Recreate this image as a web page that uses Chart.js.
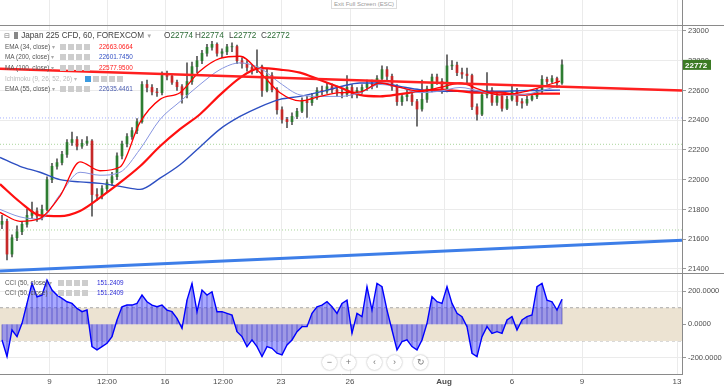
<!DOCTYPE html>
<html>
<head>
<meta charset="utf-8">
<script src="https://cdn.jsdelivr.net/npm/chart.js@4.4.0/dist/chart.umd.min.js"></script>
<style>
  body { margin: 0; background: #fff; font-family: "Liberation Sans", Arial, sans-serif; }
  #wrap { position: relative; width: 724px; height: 390px; overflow: hidden; }
  canvas { position: absolute; left: 0; }
  .t { position: absolute; white-space: nowrap; font-size: 6.4px; line-height: 8px; color: #555; }
  .ic { display: inline-block; width: 6px; height: 6px; background: #cdcdcd; margin-right: 2px; vertical-align: -1px; }
  .hl { position: absolute; left: 0; width: 724px; height: 1px; background: #8a8a8a; }
  .btn { position: absolute; width: 15px; height: 15px; border-radius: 50%; background: #fff;
         box-shadow: 0 0 2px rgba(0,0,0,0.35); font-size: 9px; color: #777; text-align: center; line-height: 15px; }
</style>
</head>
<body>
<div id="wrap">
  <canvas id="price" width="724" height="274" style="top:0"></canvas>
  <canvas id="cci" width="724" height="116" style="top:274px"></canvas>

  <div class="hl" style="top:25px"></div>
  <div class="hl" style="top:273px"></div>
  <div class="t" style="left:331px;top:-1px;width:64px;height:8px;border:1px solid #dcdcdc;background:#fff;text-align:center;color:#9a9a9a;font-size:6px;">Exit Full Screen (ESC)</div>

  <!-- main legend -->
  <div class="t" style="left:4px;top:31px;font-size:8.2px;line-height:10px;color:#444;">
    <span style="font-family:'DejaVu Sans';font-size:7px;color:#777">⊟</span>
    <span style="display:inline-block;width:4px;height:7px;background:#888;margin:0 3px 0 2px;vertical-align:-1px"></span>Japan 225 CFD, 60, FOREXCOM <span style="color:#aaa;font-size:6px">▼</span></div>
  <div class="t" style="left:164px;top:31px;font-size:8.2px;line-height:10px;color:#444;">O<span style="color:#2b6b35">22774</span></div>
  <div class="t" style="left:195px;top:31px;font-size:8.2px;line-height:10px;color:#444;">H<span style="color:#2b6b35">22774</span></div>
  <div class="t" style="left:229px;top:31px;font-size:8.2px;line-height:10px;color:#444;">L<span style="color:#2b6b35">22772</span></div>
  <div class="t" style="left:261px;top:31px;font-size:8.2px;line-height:10px;color:#444;">C<span style="color:#2b6b35">22772</span></div>

  <div class="t" style="left:5px;top:43px">EMA (34, close) <span style="color:#aaa">▾</span></div>
  <div class="t" style="left:60px;top:43px"><span class="ic"></span><span class="ic"></span><span class="ic"></span><span class="ic"></span></div>
  <div class="t" style="left:99px;top:43px;color:#ff1a1a">22663.0664</div>

  <div class="t" style="left:5px;top:53px">MA (200, close) <span style="color:#aaa">▾</span></div>
  <div class="t" style="left:60px;top:53px"><span class="ic"></span><span class="ic"></span><span class="ic"></span><span class="ic"></span></div>
  <div class="t" style="left:99px;top:53px;color:#3350c4">22601.7450</div>

  <div class="t" style="left:5px;top:64px">MA (100, close) <span style="color:#aaa">▾</span></div>
  <div class="t" style="left:60px;top:64px"><span class="ic"></span><span class="ic"></span><span class="ic"></span><span class="ic"></span></div>
  <div class="t" style="left:99px;top:64px;color:#ff1a1a">22577.9500</div>

  <div class="t" style="left:5px;top:75px;color:#bbb">Ichimoku (9, 26, 52, 26) ▾</div>
  <div class="t" style="left:85px;top:75px"><span class="ic" style="background:#3a9be0"></span><span class="ic"></span><span class="ic"></span><span class="ic"></span><span class="ic"></span></div>

  <div class="t" style="left:5px;top:85px">EMA (55, close) <span style="color:#aaa">▾</span></div>
  <div class="t" style="left:60px;top:85px"><span class="ic"></span><span class="ic"></span><span class="ic"></span><span class="ic"></span></div>
  <div class="t" style="left:99px;top:85px;color:#4a5db0">22635.4461</div>

  <!-- CCI legend -->
  <div class="t" style="left:5px;top:279px">CCI (50, close) <span style="color:#aaa">▾</span></div>
  <div class="t" style="left:58px;top:279px"><span class="ic"></span><span class="ic"></span><span class="ic"></span><span class="ic"></span></div>
  <div class="t" style="left:97px;top:279px;color:#2b2bd6">151.2409</div>
  <div class="t" style="left:5px;top:289px">CCI (50, close) <span style="color:#aaa">▾</span></div>
  <div class="t" style="left:58px;top:289px"><span class="ic"></span><span class="ic"></span><span class="ic"></span><span class="ic"></span></div>
  <div class="t" style="left:97px;top:289px;color:#2b2bd6">151.2409</div>

  <div class="btn" style="left:322px;top:355px">−</div>
  <div class="btn" style="left:341px;top:355px">+</div>
  <div class="btn" style="left:367px;top:355px">‹</div>
  <div class="btn" style="left:387px;top:355px">›</div>
  <div class="btn" style="left:413px;top:355px">↻</div>
</div>

<script>
// one candle per 5 hourly bars
const barStep = 5;
const firstOpen = 21700;
const closes = [21720,21500,21610,21650,21700,21760,21790,21755,21800,22000,
  22090,22115,22170,22250,22270,22225,22245,22260,21900,21890,
  21940,21980,22020,22160,22240,22290,22330,22390,22640,22620,
  22590,22585,22700,22695,22655,22625,22570,22660,22760,22800,
  22850,22890,22910,22850,22860,22893,22895,22800,22780,22755,
  22740,22760,22600,22700,22605,22470,22405,22390,22425,22460,
  22530,22518,22555,22600,22595,22625,22605,22588,22575,22620,
  22570,22600,22620,22645,22640,22680,22740,22695,22625,22525,
  22558,22570,22525,22475,22540,22610,22690,22660,22600,22765,
  22770,22720,22710,22700,22490,22440,22570,22600,22520,22560,
  22480,22540,22600,22525,22515,22540,22560,22595,22675,22660,
  22680,22650,22772];
const highs = [21760,21735,21630,21690,21720,21800,21850,21810,21830,22020,
  22110,22140,22190,22270,22320,22290,22270,22290,22270,21940,
  21960,22000,22050,22180,22260,22310,22350,22410,22660,22670,
  22640,22615,22725,22730,22710,22670,22640,22785,22790,22830,
  22870,22910,22930,22920,22880,22910,22920,22905,22820,22800,
  22770,22873,22770,22745,22720,22620,22490,22420,22450,22480,
  22550,22560,22580,22620,22630,22650,22645,22630,22610,22700,
  22640,22620,22640,22670,22670,22700,22765,22760,22710,22640,
  22580,22600,22590,22540,22670,22630,22710,22710,22680,22840,
  22800,22790,22750,22750,22710,22510,22590,22720,22620,22590,
  22575,22560,22630,22615,22545,22560,22580,22610,22700,22690,
  22700,22690,22806];
const lows = [21670,21460,21480,21590,21630,21680,21740,21720,21730,21790,
  21980,22070,22100,22150,22230,22200,22210,22230,21755,21860,
  21870,21920,21960,22000,22140,22220,22270,22310,22380,22590,
  22570,22560,22570,22670,22640,22600,22515,22550,22640,22720,
  22780,22830,22870,22830,22820,22840,22860,22780,22750,22730,
  22710,22720,22560,22590,22590,22440,22380,22350,22370,22410,
  22450,22418,22500,22540,22570,22580,22585,22560,22550,22560,
  22550,22550,22580,22600,22610,22620,22660,22670,22600,22500,
  22500,22530,22500,22360,22460,22520,22590,22640,22580,22590,
  22740,22700,22680,22640,22470,22400,22430,22550,22500,22500,
  22460,22470,22530,22500,22480,22500,22530,22545,22585,22640,
  22650,22620,22640];

// CCI (50) at the same candles
const cciValues = [-94,-194,-34,-74,6,126,246,166,176,266,
  206,176,156,136,126,96,76,86,-134,-154,
  -134,-114,-74,26,106,116,116,126,176,136,
  116,106,116,86,76,36,-24,146,246,76,
  206,176,196,76,76,66,56,-44,-74,-134,
  -94,-134,-194,-134,-144,-174,-184,-124,-94,-44,
  -14,-14,66,106,116,136,106,66,126,146,
  -54,66,46,226,86,246,226,86,-34,-154,
  -104,-94,-134,-154,-94,6,166,136,126,226,
  126,66,46,-14,-174,-194,-74,-14,-54,-44,
  -54,26,46,-34,26,46,56,226,246,146,
  136,86,151];

// moving averages, read every 20 bars
const maStep = 20;
const ema34 = [21780,21720,21740,21890,22120,22060,22085,22385,22540,22585,22730,22815,22830,22720,22585,22530,22560,22585,22590,22650,22620,22595,22620,22650,22605,22570,22585,22620,22663];
const ema55 = [21800,21750,21735,21900,22050,22030,22050,22205,22405,22525,22640,22740,22785,22750,22650,22570,22560,22560,22585,22640,22620,22585,22595,22620,22595,22570,22570,22595,22635];
const ma100 = [21970,21850,21760,21755,21790,21880,21980,22090,22225,22340,22440,22570,22685,22750,22740,22720,22670,22620,22570,22560,22575,22595,22605,22595,22585,22585,22570,22578,22578];
const ma200 = [22150,22090,22050,22000,21985,21975,21955,21935,22010,22100,22220,22340,22425,22490,22540,22560,22590,22625,22650,22650,22627,22605,22595,22595,22595,22595,22598,22600,22602];

// drawings
const trendX = [0, 682];
const redTrend = [22745, 22600];
const blueTrend = [21386, 21593];
const blueLevel = 22415;
const greenLevels = [22238, 21662];
const lastPrice = 22772;

// axes
const priceTicks = [21400, 21600, 21800, 22000, 22200, 22400, 22600, 22800, 23000];
const cciTicks = [-200, 0, 200];
const timeTicks = [49.5, 107, 165, 223, 281, 350, 444, 512, 582, 677];
const timeLabels = ["9", "12:00", "16", "12:00", "23", "26", "Aug", "6", "9", "13"];

const axisFont = { family: "Liberation Sans", size: 7.5 };
const gridColor = "#ebebeb";

const candleX = closes.map((c, i) => 2 + i * barStep);
const opens = closes.map((c, i) => (i === 0 ? firstOpen : closes[i - 1]));
const maX = ema34.map((v, i) => i * maStep);
const pts = (xs, ys) => xs.map((x, i) => ({ x: x, y: ys[i] }));
const flat = (v) => trendX.map((x) => ({ x: x, y: v }));

const lineDs = (data, color, width, order, extra) =>
  Object.assign({ type: "line", data: data, borderColor: color, borderWidth: width,
    pointRadius: 0, cubicInterpolationMode: "monotone", order: order }, extra || {});

const priceTag = {
  id: "priceTag",
  afterDraw(chart) {
    const ctx = chart.ctx;
    const y = chart.scales.y.getPixelForValue(lastPrice);
    const x = chart.chartArea.right + 1;
    ctx.save();
    ctx.fillStyle = "#3b7a24";
    ctx.fillRect(x, y - 5, 28, 10);
    ctx.fillStyle = "#fff";
    ctx.font = "bold 8px Liberation Sans";
    ctx.textBaseline = "middle";
    ctx.fillText(String(lastPrice), x + 2, y + 0.5);
    ctx.restore();
  }
};

const priceChart = new Chart(document.getElementById("price"), {
  type: "bar",
  data: {
    datasets: [
      lineDs(pts(trendX, redTrend), "#ff2020", 2.5, 0),
      lineDs(pts(trendX, blueTrend), "#3d7ee8", 3, 0),
      lineDs(pts(maX, ema34), "#ff0000", 1.3, 1),
      lineDs(pts(maX, ema55), "#8795e0", 1, 1),
      lineDs(pts(maX, ma100), "#ff1010", 2.2, 1),
      lineDs(pts(maX, ma200), "#2d4fc2", 1.4, 1),
      {
        type: "bar",
        data: candleX.map((x, i) => ({ x: x, y: [opens[i], closes[i]] })),
        backgroundColor: closes.map((c, i) => (c >= opens[i] ? "#2e7d32" : "#c62828")),
        barThickness: 2, grouped: false, order: 2
      },
      {
        type: "bar",
        data: candleX.map((x, i) => ({ x: x, y: [lows[i], highs[i]] })),
        backgroundColor: "#555", barThickness: 1, grouped: false, order: 3
      },
      lineDs(flat(blueLevel), "#a5b0ff", 1, 4, { borderDash: [1, 2] }),
      lineDs(flat(greenLevels[0]), "#a8d49a", 1, 4, { borderDash: [1, 2] }),
      lineDs(flat(greenLevels[1]), "#a8d49a", 1, 4, { borderDash: [1, 2] })
    ]
  },
  options: {
    responsive: false,
    animation: false,
    layout: { padding: 0 },
    plugins: { legend: { display: false }, tooltip: { enabled: false } },
    scales: {
      x: {
        type: "linear", min: 0, max: 682, offset: false,
        afterBuildTicks: (s) => { s.ticks = timeTicks.map((v) => ({ value: v })); },
        afterFit: (s) => { s.height = 0; },
        ticks: { display: false },
        grid: { color: gridColor, drawTicks: false, offset: false },
        border: { display: false }
      },
      y: {
        position: "right", min: 21366, max: 23208,
        afterBuildTicks: (s) => { s.ticks = priceTicks.map((v) => ({ value: v })); },
        afterFit: (s) => { s.width = 42; s.paddingTop = 0; s.paddingBottom = 0; },
        ticks: { color: "#4d4d4d", font: axisFont, padding: 2, callback: (v) => String(v) },
        grid: { color: gridColor, tickLength: 4, tickColor: "#999" },
        border: { color: "#8a8a8a" }
      }
    }
  },
  plugins: [priceTag]
});

const cciChart = new Chart(document.getElementById("cci"), {
  type: "bar",
  data: {
    datasets: [
      lineDs(pts(candleX, cciValues), "#0000ff", 1.4, 0, {
        cubicInterpolationMode: "default",
        fill: { target: "origin", above: "rgba(50,50,255,0.42)", below: "rgba(50,50,255,0.42)" }
      }),
      {
        type: "bar",
        data: pts(candleX, cciValues),
        backgroundColor: "rgba(20,20,140,0.3)", barThickness: 1, grouped: false, order: 1
      },
      lineDs(flat(100), "#a9a9a9", 1, 2, { borderDash: [3, 3], fill: "+1", backgroundColor: "#ece3d2" }),
      lineDs(flat(-100), "#a9a9a9", 1, 2, { borderDash: [3, 3] })
    ]
  },
  options: {
    responsive: false,
    animation: false,
    layout: { padding: 0 },
    plugins: { legend: { display: false }, tooltip: { enabled: false } },
    scales: {
      x: {
        type: "linear", min: 0, max: 682, offset: false,
        afterBuildTicks: (s) => { s.ticks = timeTicks.map((v) => ({ value: v })); },
        afterFit: (s) => { s.height = 16; s.paddingLeft = 0; s.paddingRight = 0; },
        ticks: {
          color: "#4d4d4d", padding: 3, autoSkip: false, maxRotation: 0,
          font: (ctx) => ({ family: "Liberation Sans", size: 8,
            weight: ctx.tick && ctx.tick.label === "Aug" ? "bold" : "normal" }),
          callback: (v, i) => timeLabels[i]
        },
        grid: { color: gridColor, drawTicks: false, offset: false },
        border: { color: "#8a8a8a" }
      },
      y: {
        position: "right", min: -299, max: 303,
        afterBuildTicks: (s) => { s.ticks = cciTicks.map((v) => ({ value: v })); },
        afterFit: (s) => { s.width = 42; s.paddingTop = 0; s.paddingBottom = 0; },
        ticks: { color: "#4d4d4d", font: axisFont, padding: 2, callback: (v) => v.toFixed(4) },
        grid: { color: gridColor, tickLength: 4, tickColor: "#999" },
        border: { color: "#8a8a8a" }
      }
    }
  }
});
</script>
</body>
</html>
